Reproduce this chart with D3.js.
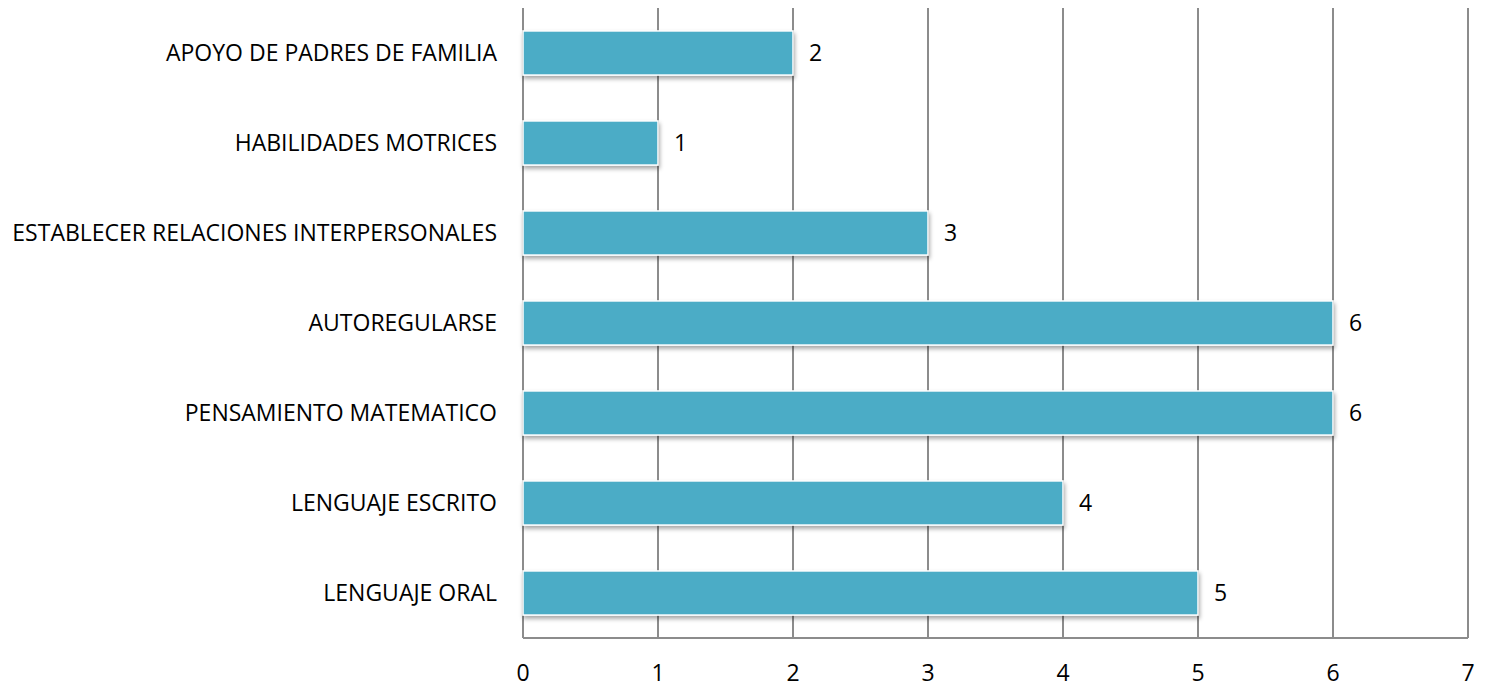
<!DOCTYPE html>
<meta charset="utf-8">
<style>
  body { margin: 0; background: #fff; }
  text { font-family: "Open Sans", sans-serif; fill: #000; }
</style>
<body>
<div id="chart"></div>
<script src="https://d3js.org/d3.v7.min.js"></script>
<script>
  // data (top to bottom as drawn)
  var categories = ["APOYO DE PADRES DE FAMILIA", "HABILIDADES MOTRICES",
    "ESTABLECER RELACIONES INTERPERSONALES", "AUTOREGULARSE",
    "PENSAMIENTO MATEMATICO", "LENGUAJE ESCRITO", "LENGUAJE ORAL"];
  var values = [2, 1, 3, 6, 6, 4, 5];
  var xTicks = [0, 1, 2, 3, 4, 5, 6, 7];

  var margin = { top: 8, right: 22, bottom: 49, left: 523 },
    width = 1490 - margin.left - margin.right,
    height = 687 - margin.top - margin.bottom;

  var svg = d3.select("#chart").append("svg")
    .attr("width", 1490)
    .attr("height", 687);

  var defs = svg.append("defs");
  var f = defs.append("filter").attr("id", "shadow")
    .attr("x", "-5%").attr("y", "-20%").attr("width", "110%").attr("height", "160%");
  f.append("feDropShadow").attr("dx", 1).attr("dy", 3).attr("stdDeviation", 2)
    .attr("flood-color", "#000").attr("flood-opacity", 0.35);

  var g = svg.append("g")
    .attr("transform", "translate(" + margin.left + "," + margin.top + ")");

  var x = d3.scaleLinear().domain([0, 7]).range([0, width]);
  var y = d3.scaleBand().domain(categories).range([0, height]).paddingInner(0.51).paddingOuter(0.255);

  // gridlines
  g.append("g").selectAll("line")
    .data(xTicks)
    .enter().append("line")
    .attr("x1", function (d) { return x(d); })
    .attr("x2", function (d) { return x(d); })
    .attr("y1", 0).attr("y2", height)
    .attr("stroke", "#8c8c8c").attr("stroke-width", 2);

  // bottom axis line
  g.append("line")
    .attr("x1", 0).attr("x2", x(7)).attr("y1", height).attr("y2", height)
    .attr("stroke", "#8c8c8c").attr("stroke-width", 2);

  // bars
  g.append("g").selectAll("rect")
    .data(values)
    .enter().append("rect")
    .attr("x", x(0))
    .attr("y", function (d, i) { return y(categories[i]); })
    .attr("width", function (d) { return x(d) - x(0); })
    .attr("height", y.bandwidth())
    .attr("fill", "#4bacc6")
    .attr("stroke", "#fff").attr("stroke-width", 1.5)
    .attr("filter", "url(#shadow)");

  // value labels
  g.append("g").selectAll("text")
    .data(values)
    .enter().append("text")
    .attr("x", function (d) { return x(d) + 16; })
    .attr("y", function (d, i) { return y(categories[i]) + y.bandwidth() / 2; })
    .attr("dy", "0.35em")
    .style("font-size", "23px")
    .text(function (d) { return d; });

  // category labels
  g.append("g").selectAll("text")
    .data(categories)
    .enter().append("text")
    .attr("x", -26)
    .attr("y", function (d) { return y(d) + y.bandwidth() / 2; })
    .attr("dy", "0.35em")
    .attr("text-anchor", "end")
    .style("font-size", "23px")
    .text(function (d) { return d; });

  // x tick labels
  g.append("g").selectAll("text")
    .data(xTicks)
    .enter().append("text")
    .attr("x", function (d) { return x(d); })
    .attr("y", height + 35)
    .attr("dy", "0.35em")
    .attr("text-anchor", "middle")
    .style("font-size", "23px")
    .text(function (d) { return d; });
</script>
</body>
